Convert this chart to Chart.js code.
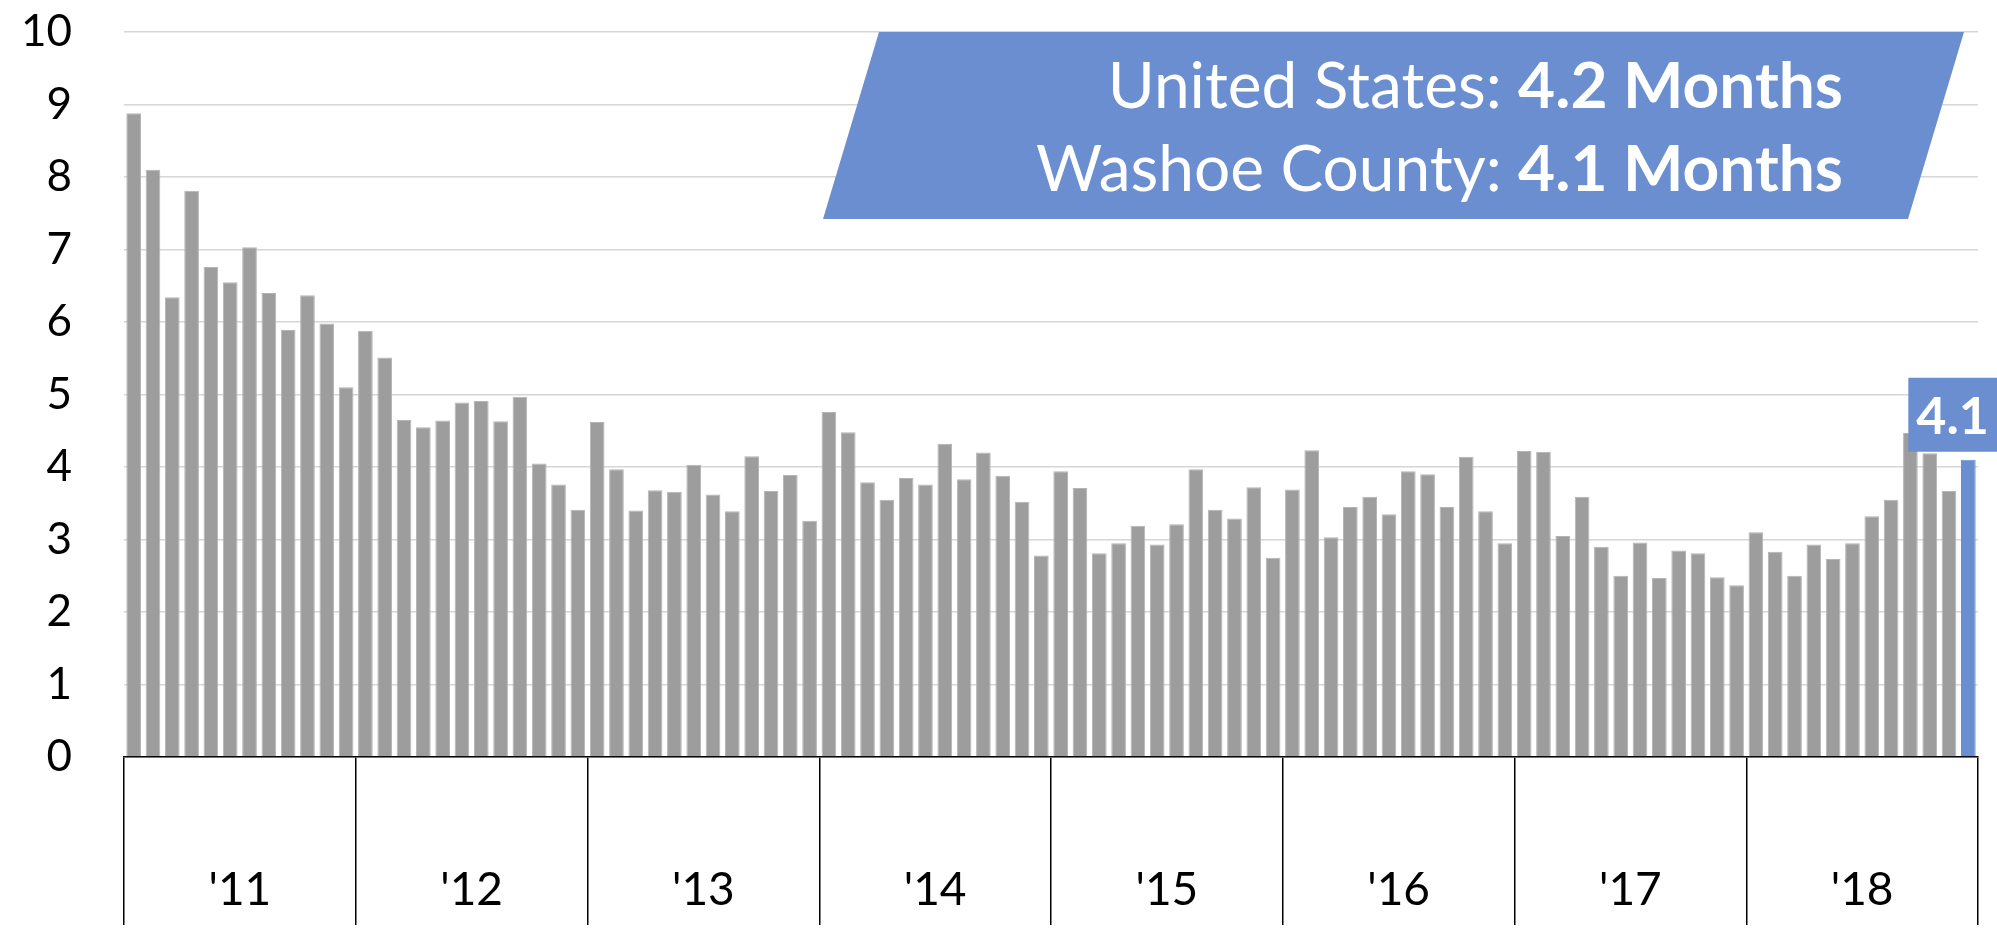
<!DOCTYPE html>
<html>
<head>
<meta charset="utf-8">
<script src="https://cdn.jsdelivr.net/npm/chart.js@4.4.1/dist/chart.umd.min.js"></script>
<style>
  html, body { margin: 0; padding: 0; background: #fff; }
  #wrap { width: 1997px; height: 930px; }
</style>
</head>
<body>
<div id="wrap"><canvas id="supplyChart" width="1997" height="930"></canvas></div>
<script>
// Months of supply, Washoe County, monthly 2011-2018
const years = ["'11", "'12", "'13", "'14", "'15", "'16", "'17", "'18"];
const monthNames = ['Jan', 'Feb', 'Mar', 'Apr', 'May', 'Jun', 'Jul', 'Aug', 'Sep', 'Oct', 'Nov', 'Dec'];

const supply2011 = [8.88, 8.10, 6.34, 7.81, 6.76, 6.55, 7.03, 6.40, 5.89, 6.37, 5.98, 5.10];
const supply2012 = [5.88, 5.51, 4.65, 4.55, 4.64, 4.89, 4.91, 4.63, 4.97, 4.05, 3.76, 3.41];
const supply2013 = [4.62, 3.97, 3.40, 3.68, 3.66, 4.03, 3.62, 3.39, 4.15, 3.67, 3.89, 3.26];
const supply2014 = [4.76, 4.48, 3.79, 3.55, 3.85, 3.76, 4.32, 3.83, 4.20, 3.88, 3.52, 2.78];
const supply2015 = [3.94, 3.71, 2.81, 2.95, 3.19, 2.93, 3.21, 3.97, 3.41, 3.29, 3.72, 2.75];
const supply2016 = [3.69, 4.23, 3.03, 3.45, 3.59, 3.35, 3.94, 3.90, 3.45, 4.14, 3.39, 2.95];
const supply2017 = [4.22, 4.21, 3.05, 3.59, 2.90, 2.50, 2.96, 2.47, 2.85, 2.81, 2.48, 2.37];
const supply2018 = [3.10, 2.83, 2.50, 2.93, 2.73, 2.95, 3.32, 3.55, 4.47, 4.19, 3.67, 4.1];

const usSupply = 4.2;
const washoeSupply = 4.1;

const GRAY = '#9d9d9d';
const BLUE = '#6a8ecf';

const values = [].concat(supply2011, supply2012, supply2013, supply2014,
  supply2015, supply2016, supply2017, supply2018);
const monthLabels = [];
years.forEach(y => monthNames.forEach(m => monthLabels.push(m + ' ' + y)));
const lastIdx = values.length - 1;

// blue callout with the US / county comparison
const calloutPlugin = {
  id: 'callout',
  afterDatasetsDraw(chart) {
    const ctx = chart.ctx;
    const top = chart.scales.y.getPixelForValue(10);
    const bottom = 219;
    const slant = 56;
    ctx.save();
    ctx.fillStyle = BLUE;
    ctx.beginPath();
    ctx.moveTo(879, top);
    ctx.lineTo(1964, top);
    ctx.lineTo(1964 - slant, bottom);
    ctx.lineTo(879 - slant, bottom);
    ctx.closePath();
    ctx.fill();

    const lines = [
      ['United States: ', usSupply.toFixed(1) + ' Months', 108],
      ['Washoe County: ', washoeSupply.toFixed(1) + ' Months', 191]
    ];
    const textRight = 1843;
    ctx.fillStyle = '#fff';
    ctx.textAlign = 'right';
    ctx.textBaseline = 'alphabetic';
    lines.forEach(([plain, bold, base]) => {
      ctx.font = 'bold 64px Lato';
      const bw = ctx.measureText(bold).width;
      ctx.fillText(bold, textRight, base);
      ctx.font = '64px Lato';
      ctx.fillText(plain, textRight - bw, base);
    });

    // value tag over the latest month
    const bar = chart.getDatasetMeta(0).data[lastIdx];
    const label = values[lastIdx].toFixed(1);
    ctx.font = 'bold 52px Lato';
    const w = ctx.measureText(label).width + 16;
    const h = 74;
    let cx = bar.x;
    if (cx + w / 2 > chart.width) cx = chart.width - w / 2;
    const boxBottom = bar.y - 8;
    ctx.fillStyle = BLUE;
    ctx.fillRect(cx - w / 2, boxBottom - h, w, h);
    ctx.fillStyle = '#fff';
    ctx.textAlign = 'center';
    ctx.textBaseline = 'middle';
    ctx.fillText(label, cx, boxBottom - h / 2 + 2);
    ctx.restore();
  }
};

new Chart(document.getElementById('supplyChart'), {
  type: 'bar',
  data: {
    labels: monthLabels,
    datasets: [{
      data: values,
      backgroundColor: values.map((v, i) => (i === lastIdx ? BLUE : GRAY)),
      borderColor: values.map((v, i) => (i === lastIdx ? BLUE : '#b4b4b4')),
      borderWidth: 1,
      barPercentage: 0.76,
      categoryPercentage: 1
    }]
  },
  options: {
    responsive: false,
    animation: false,
    layout: { padding: { top: 32, right: 19, left: 0, bottom: 0 } },
    plugins: { legend: { display: false }, tooltip: { enabled: false } },
    scales: {
      x: { display: false },
      year: {
        type: 'category',
        labels: years,
        position: 'bottom',
        offset: true,
        weight: 1,
        grid: {
          offset: true,
          drawOnChartArea: false,
          drawTicks: true,
          tickLength: 168,
          color: '#000',
          lineWidth: 1.5
        },
        border: { display: true, color: '#000', width: 1.5 },
        ticks: {
          padding: -62,
          color: '#000',
          font: { family: 'Lato', size: 46 },
          maxRotation: 0,
          autoSkip: false
        },
        afterFit(scale) { scale.height = 173; }
      },
      y: {
        min: 0,
        max: 10,
        ticks: {
          stepSize: 1,
          padding: 0,
          color: '#000',
          font: { family: 'Lato', size: 44 }
        },
        grid: {
          color: '#d6d6d6',
          lineWidth: 1.5,
          drawTicks: true,
          tickLength: 52,
          tickColor: 'rgba(0,0,0,0)'
        },
        border: { display: false },
        afterFit(scale) { scale.width = 124; }
      }
    }
  },
  plugins: [calloutPlugin]
});
</script>
</body>
</html>
